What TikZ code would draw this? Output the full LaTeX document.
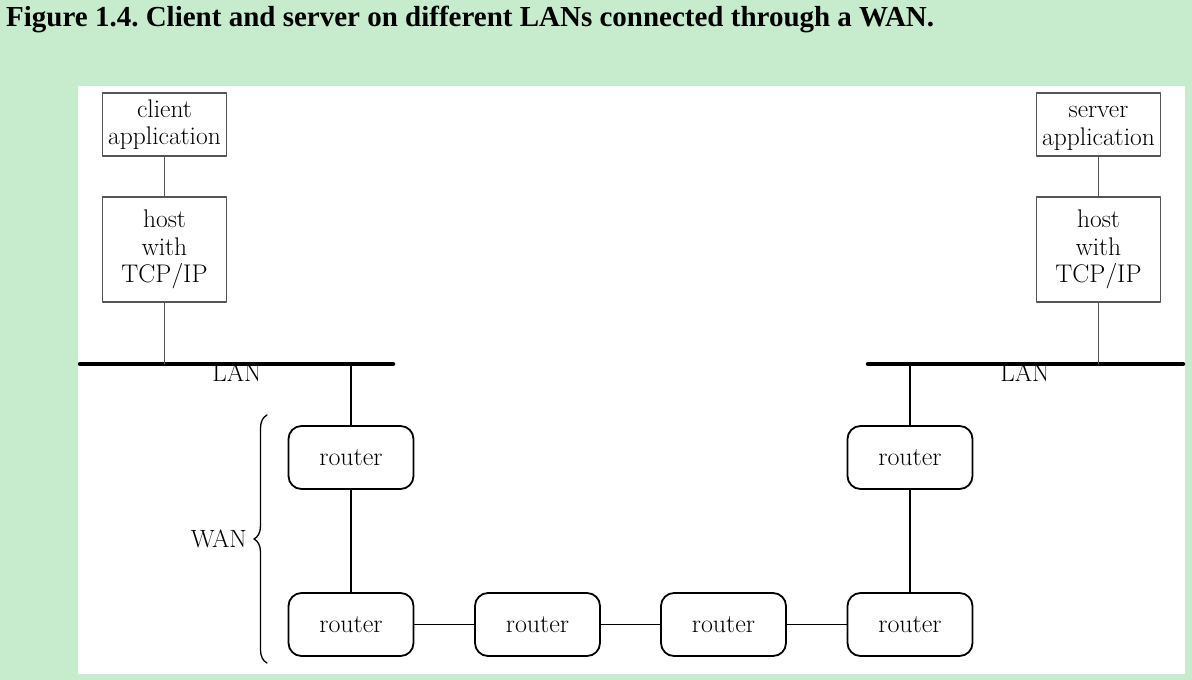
\documentclass[tikz,border=0pt]{standalone}
\usepackage{fontspec}
\newfontfamily\titlefont{Liberation Serif}
\usetikzlibrary{positioning,decorations.pathreplacing}
\definecolor{pagegreen}{RGB}{198,236,205}
\definecolor{boxgray}{RGB}{85,85,85}
\begin{document}
\frenchspacing
\begin{tikzpicture}[x=1pt,y=-1pt,line cap=round,line join=round,
	appbox/.style={draw=boxgray,line width=1.4pt,align=center,minimum width=124pt,inner sep=0pt,font=\fontsize{25.5}{27.5}\selectfont},
	router/.style={draw,line width=1.8pt,rounded corners=13pt,minimum width=125pt,minimum height=63pt,inner sep=0pt,font=\fontsize{26}{27}\selectfont},
	link/.style={draw=boxgray,line width=1.4pt},
	wire/.style={draw,line width=1.6pt},
	lanbar/.style={line width=4.5pt},
	lanlbl/.style={font=\fontsize{25}{27}\selectfont,inner sep=0pt,anchor=north}]
	% page and panel
	\fill[pagegreen] (0,0) rectangle (1192,680);
	\useasboundingbox (0,0) rectangle (1192,680);
	\fill[white] (78,86) rectangle (1185,674);
	\node[anchor=base west,inner sep=0pt,font=\titlefont\bfseries\fontsize{29}{32}\selectfont] (title) at (6,27) {Figure 1.4. Client and server on different LANs connected through a WAN.};
	% client side
	\node[appbox,minimum height=63pt] (capp) at (164.5,124.5) {client\\application};
	\node[appbox,minimum height=105pt] (chost) at (164.5,249.5) {host\\with\\TCP/IP};
	\draw[lanbar] (80,364) -- (393,364);
	\coordinate (cbar) at (164.5,364);
	\coordinate (lbar) at (351,364);
	\node[lanlbl] (llan) at (237,364) {LAN};
	% server side
	\node[appbox,minimum height=63pt] (sapp) at (1098.5,124.5) {server\strut\\application};
	\node[appbox,minimum height=105pt] (shost) at (1098.5,249.5) {host\\with\\TCP/IP};
	\draw[lanbar] (868,364) -- (1183,364);
	\coordinate (sbar) at (1098.5,364);
	\coordinate (rbar) at (910,364);
	\node[lanlbl] (rlan) at (1025,364) {LAN};
	% routers
	\node[router] (r1) at (351,457.5) {router};
	\node[router] (r6) at (910,457.5) {router};
	\foreach \n/\x in {2/351,3/537.5,4/723.5,5/910}{\node[router] (r\n) at (\x,624.5) {router};}
	% connectors
	\draw[link] (capp) -- (chost) (chost) -- (cbar);
	\draw[link] (sapp) -- (shost) (shost) -- (sbar);
	\draw[wire] (lbar) -- (r1) (r1) -- (r2) (rbar) -- (r6) (r6) -- (r5);
	\foreach \a/\b in {2/3,3/4,4/5}{\draw[wire] (r\a) -- (r\b);}
	% WAN brace
	\draw[line width=1.3pt,decorate,decoration={brace,amplitude=13pt}] (267,663) -- (267,415);
	\node[anchor=east,inner sep=0pt,font=\fontsize{25}{27}\selectfont] (wan) at (247,539) {WAN};
\end{tikzpicture}
\end{document}
